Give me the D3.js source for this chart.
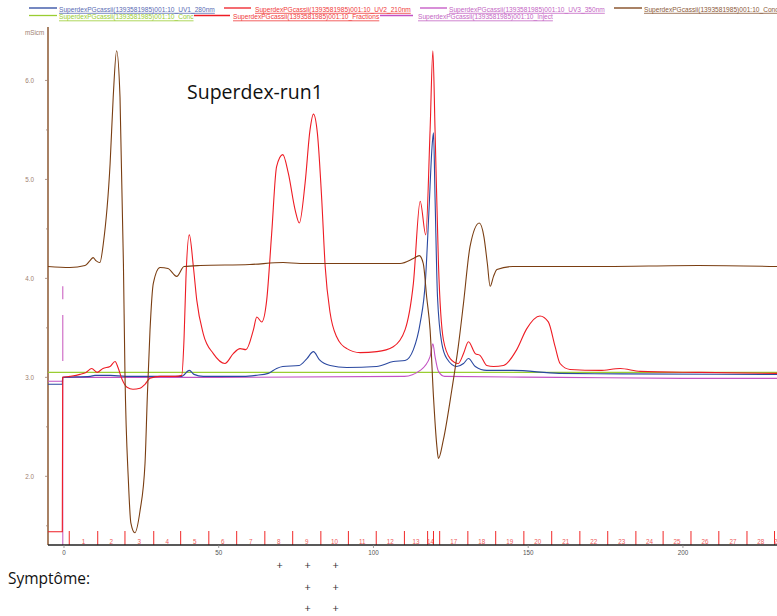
<!DOCTYPE html>
<html><head><meta charset="utf-8">
<script src="https://cdn.jsdelivr.net/npm/d3@7"></script>
<style>body{margin:0;background:#fff}svg{display:block}</style>
</head><body>
<svg id="c" width="777" height="616"></svg>
<script>
// ---- data (x in mL, y in displayed axis units) ----
const uv1 = [[-5.17,2.93],[-0.55,2.93],[-0.42,3.0],[8.5,3.01],[10,3.02],[15,3.02],[20,3.01],[38,3.01],[40.5,3.07],[42,3.03],[45,3.01],[58,3.01],[62,3.02],[66,3.04],[68.7,3.09],[70.7,3.11],[76,3.12],[78.5,3.19],[80.6,3.26],[82.5,3.18],[86,3.12],[91.4,3.1],[101,3.11],[106.4,3.16],[110.2,3.17],[112.9,3.28],[115.1,3.55],[116.8,3.98],[117.9,4.66],[119.0,5.36],[119.4,5.47],[119.9,4.82],[120.7,3.81],[122.1,3.34],[123.7,3.19],[126.9,3.11],[129.1,3.14],[130.7,3.19],[132.9,3.11],[136.6,3.07],[145,3.07],[160,3.04],[180,3.035],[230.4,3.03]];
const uv2 = [[-5.17,1.44],[-0.55,1.44],[-0.42,3.0],[1.94,3.01],[5.17,3.03],[7.11,3.05],[8.95,3.09],[10.67,3.05],[12.6,3.09],[14.87,3.11],[16.5,3.16],[17.45,3.1],[18.75,2.98],[20.36,2.9],[22.3,2.88],[24.56,2.89],[26.18,2.93],[27.8,2.99],[31.03,3.01],[35.9,3.01],[38.04,3.02],[38.8,3.4],[39.4,4.0],[40.5,4.44],[41.8,4.12],[42.9,3.78],[45.0,3.44],[48.25,3.24],[52.0,3.14],[54.7,3.24],[56.9,3.29],[58.8,3.28],[61.2,3.48],[62.3,3.61],[63.9,3.56],[65.5,3.78],[67.1,4.45],[68.7,5.13],[70.7,5.25],[72.5,5.06],[74.7,4.69],[76.05,4.56],[77.9,4.96],[79.5,5.5],[80.6,5.66],[81.9,5.46],[83.3,4.79],[84.4,4.12],[86.0,3.65],[88.1,3.41],[91.4,3.29],[95.7,3.25],[101.1,3.26],[106.4,3.31],[110.2,3.48],[112.9,3.95],[115.1,4.78],[116.9,4.44],[118.3,5.5],[119.2,6.3],[119.9,5.5],[121.0,4.15],[122.6,3.38],[124.8,3.19],[127.4,3.14],[129.1,3.24],[130.7,3.36],[132.9,3.24],[134.5,3.22],[136.6,3.12],[138.8,3.11],[142.0,3.12],[146.3,3.28],[149.5,3.49],[153.8,3.62],[156.5,3.56],[158.7,3.31],[160.3,3.14],[163.5,3.08],[173.2,3.07],[179.7,3.09],[186.2,3.06],[205.6,3.05],[230.4,3.04]];
const uv3 = [[-5.17,2.96],[-0.55,2.96],[-0.42,3.0],[50,3.0],[110,3.01],[115.1,3.07],[118.3,3.21],[119.2,3.34],[119.9,3.21],[121.0,3.06],[123,3.01],[160,3.0],[200,2.99],[230.4,2.99]];
const cond = [[-5.17,4.12],[1.9,4.11],[6.8,4.13],[8.4,4.18],[9.4,4.21],[10.3,4.18],[11.6,4.16],[12.7,4.35],[14.9,5.16],[15.9,5.83],[17.0,6.3],[18.1,5.83],[19.2,4.15],[19.7,3.04],[20.8,1.96],[21.6,1.53],[22.9,1.43],[24.56,1.65],[26.18,2.13],[26.92,2.8],[27.8,3.48],[28.86,3.95],[31.03,4.11],[33.6,4.1],[36.42,4.02],[38.78,4.12],[44,4.13],[60,4.14],[70.8,4.16],[76.3,4.15],[92.4,4.15],[108.6,4.15],[112.9,4.2],[114.8,4.23],[116.1,4.15],[117.2,3.81],[118.3,3.48],[119.4,2.8],[120.5,2.3],[121.0,2.18],[122.6,2.37],[125.3,2.87],[127.4,3.31],[129.1,3.75],[131.2,4.32],[134.2,4.56],[135.7,4.42],[136.8,4.15],[137.7,3.92],[138.8,4.02],[139.9,4.09],[145.1,4.12],[173,4.12],[205,4.13],[230.4,4.12]];
const conc = [[-5.17,3.05],[230.4,3.05]];
const injectX = -0.4;
const injectSegments = [[3.92,3.79],[3.63,3.165],[3.0,1.306]];
const fracStarts = [1.7,10.9,19.7,29.0,37.7,46.8,55.8,64.9,73.9,83.0,91.9,100.9,110.0,117.5,119.4,121.4,130.5,139.5,148.6,157.6,166.7,175.7,184.8,193.6,202.6,211.6,220.7,229.6];
const fracEnd = 231.5;
const fracLabels = ["1","2","3","4","5","6","7","8","9","10","11","12","13","14","","17","18","19","20","21","22","23","24","25","26","27","28","29"];
const yTicks = [2.0,3.0,4.0,5.0,6.0];
const yMinorTicks = [1.5,2.5,3.5,4.5,5.5];
const xTicks = [0,50,100,150,200];
const symptomFractions = ["8","9","10"];
const symptomCounts = [1,3,3];
const legendItems = [
  {name:"SuperdexPGcassii(1393581985)001:10_UV1_280nm", line:"#2a48a0", text:"#5a6cb4", row:0, x0:29, x1:57, tx:59},
  {name:"SuperdexPGcassii(1393581985)001:10_UV2_210nm", line:"#ee1c24", text:"#f03a3a", row:0, x0:224, x1:251, tx:255},
  {name:"SuperdexPGcassii(1393581985)001:10_UV3_350nm", line:"#c352c3", text:"#c466c4", row:0, x0:420, x1:447, tx:449},
  {name:"SuperdexPGcassii(1393581985)001:10_Cond", line:"#7a3e12", text:"#8c5a3a", row:0, x0:614, x1:642, tx:644},
  {name:"SuperdexPGcassii(1393581985)001:10_Conc", line:"#9acd32", text:"#9acd32", row:1, x0:29, x1:57, tx:59},
  {name:"SuperdexPGcassii(1393581985)001:10_Fractions", line:"#ee1c24", text:"#f03a3a", row:1, x0:194, x1:230, tx:233},
  {name:"SuperdexPGcassii(1393581985)001:10_Inject", line:"#c352c3", text:"#c466c4", row:1, x0:380, x1:413, tx:418}
];

// ---- drawing ----
const svg = d3.select("#c");
const x = d3.scaleLinear().domain([-5.17,230.4]).range([48,777]);
const y = d3.scaleLinear().domain([1.306,6.54]).range([545,27]);

svg.append("defs").append("clipPath").attr("id","pc")
  .append("rect").attr("x",48).attr("y",0).attr("width",729).attr("height",545);

// legend
const lg = svg.append("g").attr("font-family","Liberation Sans, Arial, sans-serif").attr("font-size",6.6);
legendItems.forEach(d=>{
  const ly = d.row===0 ? 8 : 15.5;
  const by = d.row===0 ? 11.5 : 19;
  lg.append("line").attr("x1",d.x0).attr("x2",d.x1).attr("y1",ly).attr("y2",ly).attr("stroke",d.line).attr("stroke-width",1.3);
  const t = lg.append("text").attr("x",d.tx).attr("y",by).attr("fill",d.text).text(d.name);
  const w = t.node().getComputedTextLength();
  lg.append("line").attr("x1",d.tx).attr("x2",d.tx+w).attr("y1",by+1.8).attr("y2",by+1.8).attr("stroke",d.text).attr("stroke-width",0.8);
});

// title
svg.append("text").attr("x",187).attr("y",99).attr("font-family","Open Sans, sans-serif").attr("font-size",19.5).attr("fill","#111").text("Superdex-run1");

// y axis
const ya = svg.append("g");
ya.append("line").attr("x1",48).attr("x2",48).attr("y1",27).attr("y2",545).attr("stroke","#7a3e12").attr("stroke-width",1.3);
yTicks.forEach(v=>{
  ya.append("line").attr("x1",45).attr("x2",48).attr("y1",y(v)).attr("y2",y(v)).attr("stroke","#a08070").attr("stroke-width",0.8);
  ya.append("text").attr("x",34).attr("y",y(v)+2.2).attr("text-anchor","end").attr("font-family","Liberation Sans, Arial, sans-serif").attr("font-size",6.3).attr("fill","#a08070").text(d3.format(".1f")(v));
});
yMinorTicks.forEach(v=>{
  ya.append("line").attr("x1",46).attr("x2",48).attr("y1",y(v)).attr("y2",y(v)).attr("stroke","#a08070").attr("stroke-width",0.8);
});
ya.append("text").attr("x",25).attr("y",34.5).attr("font-family","Liberation Sans, Arial, sans-serif").attr("font-size",6.3).attr("fill","#a08070").text("mSicm");

// fractions
const fg = svg.append("g");
fracStarts.forEach((s,i)=>{
  fg.append("line").attr("x1",x(s)).attr("x2",x(s)).attr("y1",531).attr("y2",545).attr("stroke","#f02828").attr("stroke-width",1);
  const e = i<fracStarts.length-1 ? fracStarts[i+1] : fracEnd;
  if(fracLabels[i]) fg.append("text").attr("x",x((s+e)/2)).attr("y",544).attr("text-anchor","middle")
    .attr("font-family","Liberation Sans, Arial, sans-serif").attr("font-size",6.3).attr("fill","#f05a5a").text(fracLabels[i]);
});

// curves
const line = d3.line().x(d=>x(d[0])).y(d=>y(d[1])).curve(d3.curveMonotoneX);
const cg = svg.append("g").attr("clip-path","url(#pc)").attr("fill","none");
cg.append("path").datum(conc).attr("d",line).attr("stroke","#9acd32").attr("stroke-width",1.2);
injectSegments.forEach(s=>{
  cg.append("line").attr("x1",x(injectX)).attr("x2",x(injectX)).attr("y1",y(s[0])).attr("y2",y(s[1])).attr("stroke","#d070c8").attr("stroke-width",1.2);
});
cg.append("path").datum(uv3).attr("d",line).attr("stroke","#c352c3").attr("stroke-width",1.1);
cg.append("path").datum(uv1).attr("d",line).attr("stroke","#2a48a0").attr("stroke-width",1.1);
cg.append("path").datum(uv2).attr("d",line).attr("stroke","#ee1c24").attr("stroke-width",1.1);
cg.append("path").datum(cond).attr("d",line).attr("stroke","#7a3e12").attr("stroke-width",1.1);

// x axis
const xa = svg.append("g");
xa.append("line").attr("x1",48).attr("x2",777).attr("y1",545).attr("y2",545).attr("stroke","#222").attr("stroke-width",1.4);
xTicks.forEach(v=>{
  xa.append("line").attr("x1",x(v)).attr("x2",x(v)).attr("y1",545).attr("y2",548).attr("stroke","#888").attr("stroke-width",0.8);
  xa.append("text").attr("x",x(v)).attr("y",554.5).attr("text-anchor","middle").attr("font-family","Liberation Sans, Arial, sans-serif").attr("font-size",6.3).attr("fill","#555").text(v);
});

// symptoms
svg.append("text").attr("x",8).attr("y",584).attr("font-family","Open Sans, sans-serif").attr("font-size",15.5).attr("fill","#111").text("Symptôme:");
symptomFractions.forEach((f,i)=>{
  const k = fracLabels.indexOf(f);
  const cx = x((fracStarts[k]+fracStarts[k+1])/2);
  for(let j=0;j<symptomCounts[i];j++){
    svg.append("text").attr("x",cx+1).attr("y",569+j*21.5).attr("text-anchor","middle").attr("font-family","Open Sans, sans-serif").attr("font-size",11).attr("fill","#333").text("+");
  }
});
</script>
</body></html>
